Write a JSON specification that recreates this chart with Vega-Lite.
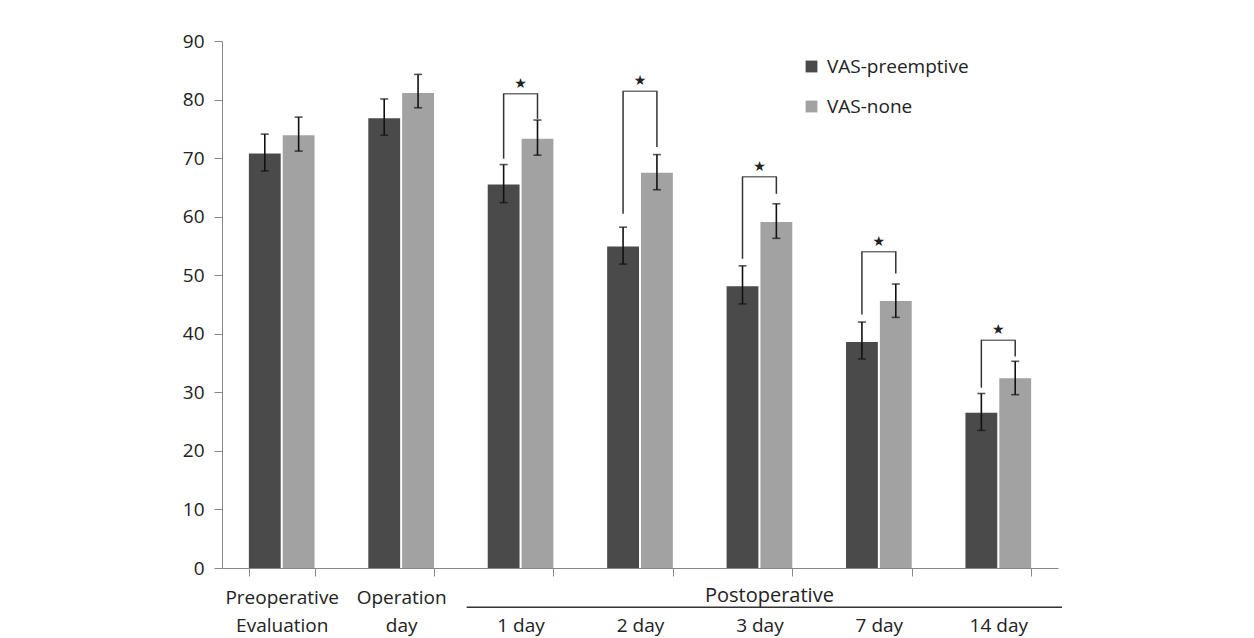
{
  "$schema": "https://vega.github.io/schema/vega-lite/v6.json",
  "width": 836,
  "height": 527,
  "autosize": {"type": "none"},
  "padding": {"left": 222, "top": 41, "right": 196, "bottom": 70},
  "background": "white",
  "config": {"font": "Open Sans", "view": {"stroke": null}},
  "datasets": {
    "bars": [
      {"period": "Preoperative Evaluation", "group": "VAS-preemptive", "mean": 70.8, "lo": 67.8, "hi": 74.1},
      {"period": "Preoperative Evaluation", "group": "VAS-none", "mean": 73.9, "lo": 71.2, "hi": 77.0},
      {"period": "Operation day", "group": "VAS-preemptive", "mean": 76.8, "lo": 73.9, "hi": 80.1},
      {"period": "Operation day", "group": "VAS-none", "mean": 81.1, "lo": 78.6, "hi": 84.3},
      {"period": "1 day", "group": "VAS-preemptive", "mean": 65.5, "lo": 62.4, "hi": 68.9},
      {"period": "1 day", "group": "VAS-none", "mean": 73.3, "lo": 70.5, "hi": 76.5},
      {"period": "2 day", "group": "VAS-preemptive", "mean": 54.9, "lo": 51.9, "hi": 58.2},
      {"period": "2 day", "group": "VAS-none", "mean": 67.5, "lo": 64.6, "hi": 70.6},
      {"period": "3 day", "group": "VAS-preemptive", "mean": 48.1, "lo": 45.1, "hi": 51.6},
      {"period": "3 day", "group": "VAS-none", "mean": 59.1, "lo": 56.3, "hi": 62.2},
      {"period": "7 day", "group": "VAS-preemptive", "mean": 38.6, "lo": 35.7, "hi": 42.0},
      {"period": "7 day", "group": "VAS-none", "mean": 45.6, "lo": 42.8, "hi": 48.5},
      {"period": "14 day", "group": "VAS-preemptive", "mean": 26.5, "lo": 23.5, "hi": 29.8},
      {"period": "14 day", "group": "VAS-none", "mean": 32.4, "lo": 29.6, "hi": 35.3}
    ],
    "brackets": [
      {"period": "1 day", "group": "VAS-preemptive", "top": 81.0, "end": 69.9},
      {"period": "1 day", "group": "VAS-none", "top": 81.0, "end": 76.7},
      {"period": "2 day", "group": "VAS-preemptive", "top": 81.4, "end": 60.5},
      {"period": "2 day", "group": "VAS-none", "top": 81.4, "end": 71.9},
      {"period": "3 day", "group": "VAS-preemptive", "top": 66.8, "end": 52.8},
      {"period": "3 day", "group": "VAS-none", "top": 66.8, "end": 63.9},
      {"period": "7 day", "group": "VAS-preemptive", "top": 54.0, "end": 43.3},
      {"period": "7 day", "group": "VAS-none", "top": 54.0, "end": 50.3},
      {"period": "14 day", "group": "VAS-preemptive", "top": 38.9, "end": 30.8},
      {"period": "14 day", "group": "VAS-none", "top": 38.9, "end": 36.1}
    ]
  },
  "layer": [
    {
      "data": {"name": "bars"},
      "mark": {"type": "bar"},
      "encoding": {
        "x": {
          "field": "period", "type": "nominal",
          "scale": {"domain": ["Preoperative Evaluation", "Operation day", "1 day", "2 day", "3 day", "7 day", "14 day"], "paddingInner": 0.45, "paddingOuter": 0.225},
          "axis": {
            "title": null, "tickBand": "extent", "tickSize": 8, "domainColor": "#888", "tickColor": "#888",
            "labelFontSize": 19, "labelColor": "#222", "labelPadding": 12, "labelLineHeight": 28, "labelAngle": 0,
            "labelOverlap": false,
            "labelExpr": "datum.value == 'Preoperative Evaluation' ? ['Preoperative', 'Evaluation'] : datum.value == 'Operation day' ? ['Operation', 'day'] : ['', datum.value]"
          }
        },
        "xOffset": {"field": "group", "type": "nominal", "scale": {"domain": ["VAS-preemptive", "VAS-none"], "paddingInner": 0.06}},
        "y": {
          "field": "mean", "type": "quantitative",
          "scale": {"domain": [0, 90], "nice": false},
          "axis": {"title": null, "grid": false, "values": [0, 10, 20, 30, 40, 50, 60, 70, 80, 90], "domainColor": "#888", "tickColor": "#888", "tickSize": 8, "labelFontSize": 19, "labelColor": "#222", "labelPadding": 10}
        },
        "color": {
          "field": "group", "type": "nominal",
          "scale": {"domain": ["VAS-preemptive", "VAS-none"], "range": ["#4a4a4a", "#a2a2a2"]},
          "legend": {"title": null, "orient": "none", "legendX": 580, "legendY": 16, "symbolType": "square", "symbolSize": 140, "symbolStrokeWidth": 0, "labelFontSize": 19, "labelColor": "#222", "labelOffset": 6, "rowPadding": 20}
        }
      }
    },
    {
      "data": {"name": "bars"},
      "mark": {"type": "rule", "color": "#111", "strokeWidth": 1.6},
      "encoding": {
        "x": {"field": "period", "type": "nominal"},
        "xOffset": {"field": "group", "type": "nominal"},
        "y": {"field": "lo", "type": "quantitative"},
        "y2": {"field": "hi"}
      }
    },
    {
      "data": {"name": "bars"},
      "mark": {"type": "tick", "color": "#111", "thickness": 1.6, "size": 8},
      "encoding": {
        "x": {"field": "period", "type": "nominal"},
        "xOffset": {"field": "group", "type": "nominal"},
        "y": {"field": "hi", "type": "quantitative"}
      }
    },
    {
      "data": {"name": "bars"},
      "mark": {"type": "tick", "color": "#111", "thickness": 1.6, "size": 8},
      "encoding": {
        "x": {"field": "period", "type": "nominal"},
        "xOffset": {"field": "group", "type": "nominal"},
        "y": {"field": "lo", "type": "quantitative"}
      }
    },
    {
      "data": {"name": "brackets"},
      "mark": {"type": "rule", "color": "#333", "strokeWidth": 1.5},
      "encoding": {
        "x": {"field": "period", "type": "nominal"},
        "xOffset": {"field": "group", "type": "nominal"},
        "y": {"field": "top", "type": "quantitative"},
        "y2": {"field": "end"}
      }
    },
    {
      "data": {"name": "brackets"},
      "transform": [{"filter": "datum.group == 'VAS-preemptive'"}],
      "mark": {"type": "tick", "color": "#333", "thickness": 1.5, "size": 35},
      "encoding": {
        "x": {"field": "period", "type": "nominal"},
        "y": {"field": "top", "type": "quantitative"}
      }
    },
    {
      "data": {"name": "brackets"},
      "transform": [{"filter": "datum.group == 'VAS-preemptive'"}],
      "mark": {"type": "text", "text": "★", "font": "DejaVu Sans", "fontSize": 14, "color": "#222", "baseline": "middle", "dy": -10},
      "encoding": {
        "x": {"field": "period", "type": "nominal"},
        "y": {"field": "top", "type": "quantitative"}
      }
    },
    {
      "data": {"values": [{}]},
      "mark": {"type": "text", "text": "Postoperative", "fontSize": 20, "color": "#222", "baseline": "alphabetic", "dx": 10},
      "encoding": {
        "x": {"datum": "3 day"},
        "y": {"datum": -5.8}
      }
    },
    {
      "data": {"values": [{}]},
      "mark": {"type": "rule", "color": "#333", "strokeWidth": 1.6},
      "encoding": {
        "x": {"datum": "1 day", "bandPosition": -0.32},
        "x2": {"datum": "14 day", "bandPosition": 1.47},
        "y": {"datum": -6.7}
      }
    }
  ]
}
